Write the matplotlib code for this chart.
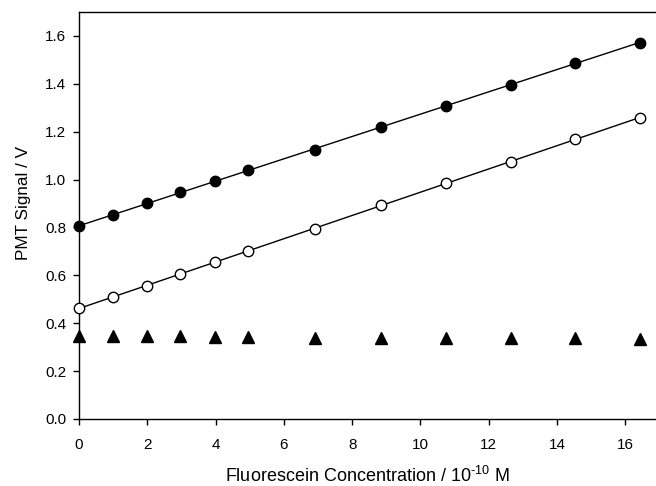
import numpy as np
import matplotlib
matplotlib.use("Agg")
import matplotlib.pyplot as plt

plt.rcParams['font.family'] = ['Liberation Sans', 'DejaVu Sans']
plt.rcParams['mathtext.fontset'] = 'custom'
plt.rcParams['mathtext.rm'] = 'Liberation Sans'

conc = [0.0, 1.0, 1.99, 2.97, 3.97, 4.96, 6.92, 8.84, 10.75, 12.64, 14.53, 16.42]
filled = [0.807, 0.852, 0.901, 0.947, 0.994, 1.039, 1.122, 1.221, 1.309, 1.396, 1.486, 1.572]
opened = [0.462, 0.510, 0.557, 0.606, 0.655, 0.702, 0.793, 0.895, 0.986, 1.075, 1.168, 1.257]
tri = [0.345, 0.345, 0.347, 0.345, 0.344, 0.341, 0.338, 0.338, 0.337, 0.337, 0.337, 0.335]

xticks = [0, 2, 4, 6, 8, 10, 12, 14, 16]
yticks = [0.0, 0.2, 0.4, 0.6, 0.8, 1.0, 1.2, 1.4, 1.6]

fig = plt.figure(figsize=(6.56, 4.86), dpi=100)
ax = fig.add_axes([0.1204, 0.1379, 0.8796, 0.8374])

x = np.array(conc)
for ys in (filled, opened):
    p = np.polyfit(x, ys, 1)
    xl = np.array([x[0], x[-1]])
    ax.plot(xl, np.polyval(p, xl), color='black', lw=1.0, zorder=2)

ax.plot(conc, filled, 'o', ms=7.5, mfc='black', mec='black', zorder=3, clip_on=False)
ax.plot(conc, opened, 'o', ms=7.5, mfc='white', mec='black', mew=1.0, zorder=3, clip_on=False)
ax.plot(conc, tri, '^', ms=8, mfc='black', mec='black', zorder=3, clip_on=False)

ax.set_xlim(0, 16.9)
ax.set_ylim(0, 1.7)
ax.set_xticks(xticks)
ax.set_xticklabels([str(t) for t in xticks])
ax.set_yticks(yticks)
ax.set_yticklabels([f"{t:.1f}" for t in yticks])
ax.spines['right'].set_visible(False)
for s in ax.spines.values():
    s.set_linewidth(1.0)
ax.tick_params(direction='out', length=4, width=1.0, labelsize=11)
ax.tick_params(axis='x', pad=10)
ax.tick_params(axis='y', pad=5)
ax.set_xlabel('Fluorescein Concentration / 10$^{\\mathrm{\\text{-}10}}$ M', fontsize=13)
ax.xaxis.set_label_coords(0.5, -0.116)
ax.set_ylabel('PMT Signal / V', fontsize=12.3)
ax.yaxis.set_label_coords(-0.083, 0.531)

fig.savefig('out.png', dpi=100)
